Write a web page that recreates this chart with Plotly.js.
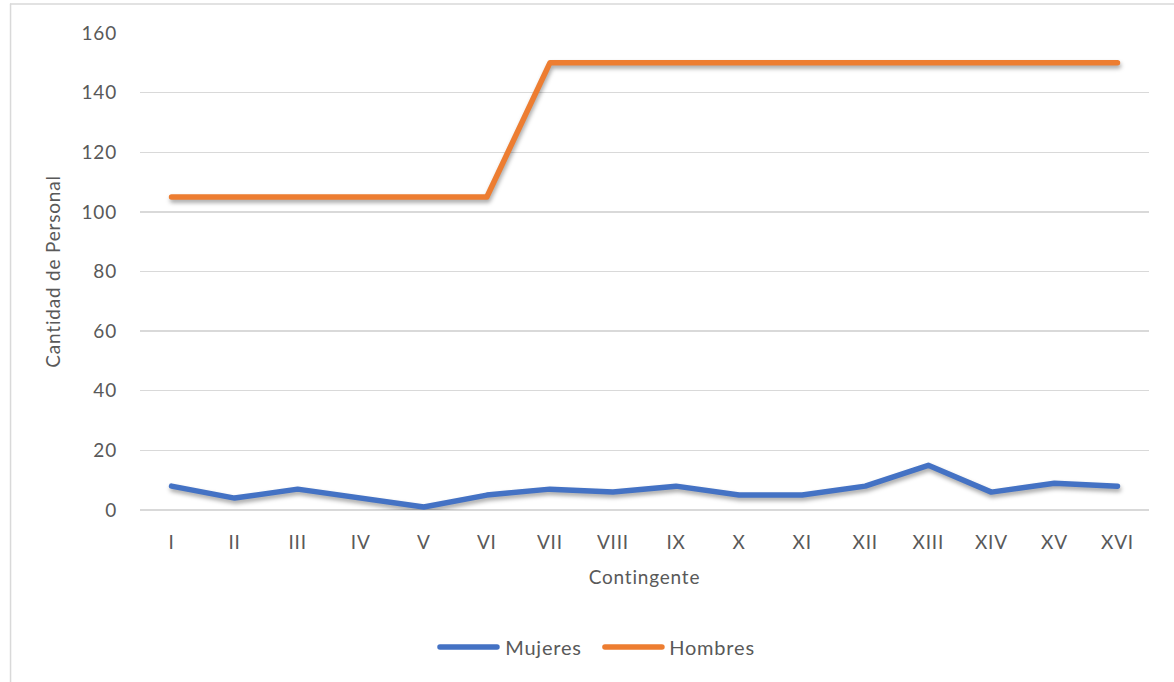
<!DOCTYPE html>
<html>
<head>
<meta charset="utf-8">
<script src="https://cdn.plot.ly/plotly-3.0.1.min.js"></script>
<style>
  html, body { margin: 0; padding: 0; background: #ffffff; }
  #chart { width: 1174px; height: 682px; }
  .scatterlayer .js-line { stroke-linecap: round; stroke-linejoin: round; filter: drop-shadow(1px 3px 2px rgba(0,0,0,0.35)); }
  .shapelayer path { stroke-linecap: round; }
  .xtick text, .ytick text, .xtitle, .ytitle { letter-spacing: 0.8px; }
  .annotation-text-g text { letter-spacing: 0.8px; }
</style>
</head>
<body>
<div id="chart"></div>
<script>
const contingentes = ["I","II","III","IV","V","VI","VII","VIII","IX","X","XI","XII","XIII","XIV","XV","XVI"];
const mujeres = [8, 4, 7, 4, 1, 5, 7, 6, 8, 5, 5, 8, 15, 6, 9, 8];
const hombres = [105, 105, 105, 105, 105, 105, 150, 150, 150, 150, 150, 150, 150, 150, 150, 150];
const yTicks = [0, 20, 40, 60, 80, 100, 120, 140, 160];
const seriesNames = ["Mujeres", "Hombres"];
const seriesColors = ["#4472C4", "#ED7D31"];
const titulo = "Grupos de personal por sexo y contingente";

const gray = "#595959";
const fontFam = "Lato, 'Open Sans', sans-serif";

const traces = [
  { x: contingentes, y: mujeres, name: seriesNames[0], type: "scatter", mode: "lines",
    line: { color: seriesColors[0], width: 5.5 }, showlegend: false },
  { x: contingentes, y: hombres, name: seriesNames[1], type: "scatter", mode: "lines",
    line: { color: seriesColors[1], width: 5.5 }, showlegend: false }
];

// legend built from the series names/colours (Excel-style long line samples)
const legX = [[0.2973, 0.3538, 0.3625], [0.4608, 0.5173, 0.5250]];
const legY = -0.2872;
const legendShapes = seriesNames.map((n, i) => ({
  type: "line", xref: "paper", yref: "paper", x0: legX[i][0], x1: legX[i][1], y0: legY, y1: legY,
  line: { color: seriesColors[i], width: 5.5 }
}));
const legendTexts = seriesNames.map((n, i) => ({
  text: n, xref: "paper", yref: "paper", x: legX[i][2], xanchor: "left", y: legY, yanchor: "middle",
  showarrow: false, font: { size: 20, color: gray, family: fontFam }
}));

const layout = {
  width: 1174, height: 682,
  margin: { l: 140, r: 25, t: 33, b: 172 },
  paper_bgcolor: "#ffffff", plot_bgcolor: "#ffffff",
  font: { family: fontFam, color: gray, size: 19 },
  showlegend: false,
  xaxis: {
    type: "category", range: [-0.5, 15.5], showgrid: false, zeroline: false, showline: false, ticks: "",
    tickfont: { size: 19, color: gray }, ticklabelstandoff: 19,
    title: { text: "Contingente", font: { size: 19, color: gray }, standoff: 18 }
  },
  yaxis: {
    range: [0, 160], tickvals: yTicks, showgrid: true, gridcolor: "#d9d9d9", gridwidth: 1.3,
    zeroline: true, zerolinecolor: "#d9d9d9", zerolinewidth: 1.3, showline: false, ticks: "",
    tickfont: { size: 19, color: gray }, ticklabelstandoff: 22,
    title: { text: "Cantidad de Personal", font: { size: 19, color: gray }, standoff: 15 }
  },
  shapes: [
    { type: "line", xref: "paper", yref: "paper", x0: -0.1283, x1: 1.03, y0: 1.0608, y1: 1.0608,
      line: { color: "#d9d9d9", width: 1.5 }, layer: "below" },
    { type: "line", xref: "paper", yref: "paper", x0: -0.1283, x1: -0.1283, y0: 1.0608, y1: -0.4,
      line: { color: "#d9d9d9", width: 1.5 }, layer: "below" }
  ].concat(legendShapes),
  annotations: [
    { text: "<b><i>" + titulo + "</i></b>", xref: "paper", yref: "paper", x: 0.01, xanchor: "left",
      y: 1.0643, yanchor: "bottom", showarrow: false,
      font: { family: "'Liberation Serif', 'DejaVu Serif', serif", size: 24, color: "#000000" } }
  ].concat(legendTexts)
};

Plotly.newPlot("chart", traces, layout, { displayModeBar: false, staticPlot: true });
</script>
</body>
</html>
